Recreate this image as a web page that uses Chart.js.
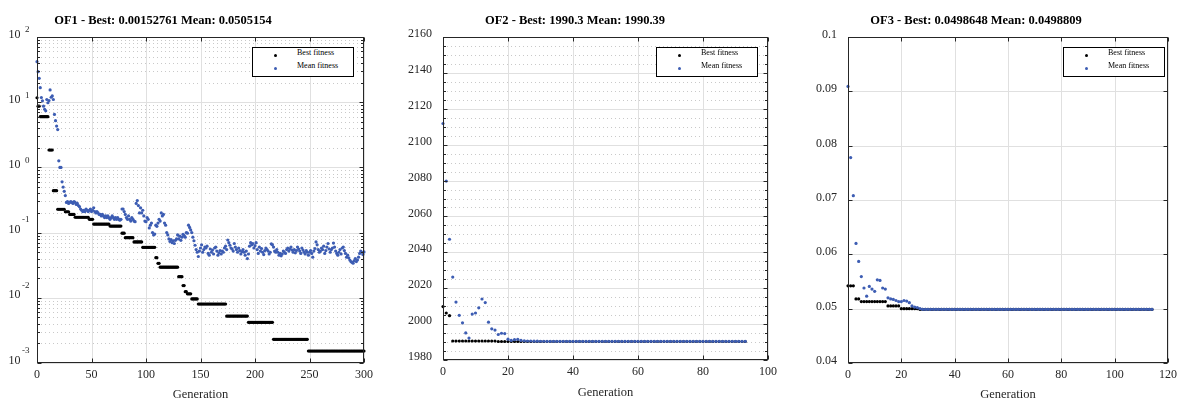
<!DOCTYPE html>
<html><head><meta charset="utf-8">
<script src="https://cdn.jsdelivr.net/npm/chart.js@4.4.1/dist/chart.umd.min.js"></script>
<style>
html,body{margin:0;padding:0;background:#fff;}
#wrap{position:relative;width:1182px;height:403px;overflow:hidden;font-family:'Liberation Serif','Times New Roman',serif;}
canvas{position:absolute;top:0;}
.ttl{position:absolute;top:12px;font-weight:bold;font-size:12.5px;line-height:16px;white-space:nowrap;transform:translateX(-50%);color:#000;}
.lg{position:absolute;top:47px;width:102px;height:30px;border:1px solid #000;background:#fff;box-sizing:border-box;font-size:8px;color:#000;}
.lg .d{position:absolute;width:3px;height:3px;border-radius:50%;}
.lg .t{position:absolute;line-height:10px;white-space:nowrap;}
</style></head>
<body><div id="wrap">
<canvas id="c1" width="394" height="403" style="left:0px"></canvas>
<canvas id="c2" width="400" height="403" style="left:400px"></canvas>
<canvas id="c3" width="382" height="403" style="left:800px"></canvas>
<div class="ttl" id="t1" style="left:163px"></div>
<div class="ttl" id="t2" style="left:575px"></div>
<div class="ttl" id="t3" style="left:976px"></div>
<div class="lg" style="left:252px"><span class="d" style="left:21px;top:6px;background:#000"></span><span class="t n0" style="left:44px;top:0px"></span><span class="d" style="left:21px;top:19px;background:#3d5db3"></span><span class="t n1" style="left:44px;top:13px"></span></div>
<div class="lg" style="left:656px"><span class="d" style="left:21px;top:6px;background:#000"></span><span class="t n0" style="left:44px;top:0px"></span><span class="d" style="left:21px;top:19px;background:#3d5db3"></span><span class="t n1" style="left:44px;top:13px"></span></div>
<div class="lg" style="left:1063px"><span class="d" style="left:21px;top:6px;background:#000"></span><span class="t n0" style="left:44px;top:0px"></span><span class="d" style="left:21px;top:19px;background:#3d5db3"></span><span class="t n1" style="left:44px;top:13px"></span></div>
</div>
<script>
const SERIES_NAMES = ['Best fitness', 'Mean fitness'];
const TITLES = ['OF1 - Best: 0.00152761 Mean: 0.0505154', 'OF2 - Best: 1990.3 Mean: 1990.39', 'OF3 - Best: 0.0498648 Mean: 0.0498809'];
const X_LABEL = 'Generation';

const of1XTicks = [0, 50, 100, 150, 200, 250, 300];
const of1YExponents = [-3, -2, -1, 0, 1, 2];
const of2XTicks = [0, 20, 40, 60, 80, 100];
const of2YTicks = [1980, 2000, 2020, 2040, 2060, 2080, 2100, 2120, 2140, 2160];
const of3XTicks = [0, 20, 40, 60, 80, 100, 120];
const of3YTicks = [0.04, 0.05, 0.06, 0.07, 0.08, 0.09, 0.1];

const of1Best = [
11.7,8.7,8.7,6,6,6,6,6,6,6,
6,1.85,1.85,1.85,1.85,0.44,0.44,0.44,0.44,0.228,
0.228,0.228,0.228,0.228,0.228,0.228,0.209,0.209,0.209,0.209,
0.19,0.19,0.19,0.19,0.19,0.172,0.172,0.172,0.172,0.172,
0.172,0.172,0.172,0.172,0.172,0.172,0.172,0.172,0.16,0.16,
0.16,0.16,0.135,0.135,0.135,0.135,0.135,0.135,0.135,0.135,
0.135,0.135,0.135,0.135,0.135,0.135,0.135,0.126,0.126,0.126,
0.126,0.126,0.126,0.126,0.126,0.126,0.126,0.126,0.098,0.098,
0.098,0.0835,0.0835,0.0835,0.0835,0.0835,0.0835,0.0835,0.0835,0.072,
0.072,0.072,0.072,0.072,0.072,0.072,0.072,0.0594,0.0594,0.0594,
0.0594,0.0594,0.0594,0.0594,0.0594,0.0594,0.0594,0.0594,0.0594,0.0412,
0.0412,0.0338,0.0338,0.0295,0.0295,0.0295,0.0295,0.0295,0.0295,0.0295,
0.0295,0.0295,0.0295,0.0295,0.0295,0.0295,0.0295,0.0295,0.0295,0.0295,
0.0211,0.0211,0.0211,0.0211,0.0154,0.0154,0.0124,0.0124,0.0115,0.0115,
0.0115,0.0115,0.0096,0.0096,0.0096,0.0096,0.0096,0.0096,0.00803,0.00803,
0.00803,0.00803,0.00803,0.00803,0.00803,0.00803,0.00803,0.00803,0.00803,0.00803,
0.00803,0.00803,0.00803,0.00803,0.00803,0.00803,0.00803,0.00803,0.00803,0.00803,
0.00803,0.00803,0.00803,0.00803,0.00525,0.00525,0.00525,0.00525,0.00525,0.00525,
0.00525,0.00525,0.00525,0.00525,0.00525,0.00525,0.00525,0.00525,0.00525,0.00525,
0.00525,0.00525,0.00525,0.00525,0.0042,0.0042,0.0042,0.0042,0.0042,0.0042,
0.0042,0.0042,0.0042,0.0042,0.0042,0.0042,0.0042,0.0042,0.0042,0.0042,
0.0042,0.0042,0.0042,0.0042,0.0042,0.0042,0.0042,0.00231,0.00231,0.00231,
0.00231,0.00231,0.00231,0.00231,0.00231,0.00231,0.00231,0.00231,0.00231,0.00231,
0.00231,0.00231,0.00231,0.00231,0.00231,0.00231,0.00231,0.00231,0.00231,0.00231,
0.00231,0.00231,0.00231,0.00231,0.00231,0.00231,0.00231,0.00231,0.00231,0.00152761,
0.00152761,0.00152761,0.00152761,0.00152761,0.00152761,0.00152761,0.00152761,0.00152761,0.00152761,0.00152761,
0.00152761,0.00152761,0.00152761,0.00152761,0.00152761,0.00152761,0.00152761,0.00152761,0.00152761,0.00152761,
0.00152761,0.00152761,0.00152761,0.00152761,0.00152761,0.00152761,0.00152761,0.00152761,0.00152761,0.00152761,
0.00152761,0.00152761,0.00152761,0.00152761,0.00152761,0.00152761,0.00152761,0.00152761,0.00152761,0.00152761,
0.00152761,0.00152761,0.00152761,0.00152761,0.00152761,0.00152761,0.00152761,0.00152761,0.00152761,0.00152761,
0.00152761];

const of1Mean = [
41.9,29.4,23.2,16.7,11.8,10.5,8.7,7.8,7.4,11.0,
9.8,10.6,15.4,11.9,12.5,11.0,6.5,5.2,4.3,3.8,
1.26,1.0,1.0,0.6,0.5,0.43,0.37,0.29,0.30,0.28,
0.29,0.30,0.29,0.28,0.30,0.29,0.27,0.28,0.26,0.25,
0.23,0.22,0.21,0.22,0.21,0.23,0.22,0.21,0.22,0.23,
0.21,0.22,0.24,0.21,0.20,0.21,0.20,0.19,0.19,0.18,
0.19,0.18,0.17,0.18,0.17,0.18,0.17,0.16,0.17,0.18,
0.17,0.16,0.17,0.16,0.17,0.16,0.155,0.16,0.23,0.23,
0.21,0.19,0.17,0.16,0.18,0.16,0.15,0.17,0.16,0.15,
0.147,0.28,0.31,0.26,0.2,0.24,0.2,0.22,0.18,0.15,
0.147,0.17,0.16,0.118,0.13,0.14,0.1,0.092,0.095,0.13,
0.125,0.14,0.16,0.15,0.2,0.18,0.19,0.14,0.13,0.1,
0.092,0.08,0.073,0.078,0.07,0.075,0.068,0.076,0.08,0.092,
0.08,0.088,0.076,0.085,0.094,0.09,0.085,0.1,0.098,0.13,
0.12,0.11,0.1,0.085,0.075,0.064,0.055,0.05,0.043,0.052,
0.058,0.065,0.05,0.055,0.06,0.058,0.062,0.048,0.045,0.056,
0.05,0.054,0.047,0.058,0.06,0.052,0.045,0.049,0.053,0.047,
0.052,0.05,0.058,0.062,0.055,0.077,0.07,0.064,0.058,0.056,
0.052,0.068,0.06,0.055,0.05,0.058,0.053,0.047,0.051,0.055,
0.05,0.045,0.052,0.04,0.047,0.062,0.07,0.065,0.068,0.058,
0.063,0.07,0.055,0.048,0.06,0.052,0.057,0.05,0.046,0.053,
0.058,0.055,0.052,0.047,0.05,0.067,0.065,0.06,0.052,0.05,
0.055,0.05,0.045,0.048,0.044,0.047,0.052,0.05,0.048,0.055,
0.058,0.052,0.056,0.06,0.054,0.05,0.055,0.049,0.053,0.06,
0.056,0.052,0.048,0.058,0.054,0.05,0.047,0.053,0.05,0.045,
0.05,0.053,0.048,0.042,0.052,0.057,0.072,0.065,0.055,0.05,
0.052,0.058,0.055,0.062,0.048,0.053,0.06,0.068,0.056,0.05,
0.055,0.058,0.069,0.06,0.052,0.048,0.045,0.05,0.055,0.047,
0.058,0.06,0.053,0.048,0.042,0.045,0.041,0.038,0.036,0.035,
0.034,0.037,0.04,0.036,0.038,0.042,0.048,0.052,0.05,0.046,
0.0505154];

const of2Best = [
2009.8,2006.2,2004.7,1990.6,1990.6,1990.6,1990.6,1990.6,1990.6,1990.6,
1990.6,1990.6,1990.6,1990.6,1990.6,1990.6,1990.6,1990.3,1990.3,1990.3,
1990.3,1990.3,1990.3,1990.3,1990.3,1990.3,1990.3,1990.3,1990.3,1990.3,
1990.3,1990.3,1990.3,1990.3,1990.3,1990.3,1990.3,1990.3,1990.3,1990.3,
1990.3,1990.3,1990.3,1990.3,1990.3,1990.3,1990.3,1990.3,1990.3,1990.3,
1990.3,1990.3,1990.3,1990.3,1990.3,1990.3,1990.3,1990.3,1990.3,1990.3,
1990.3,1990.3,1990.3,1990.3,1990.3,1990.3,1990.3,1990.3,1990.3,1990.3,
1990.3,1990.3,1990.3,1990.3,1990.3,1990.3,1990.3,1990.3,1990.3,1990.3,
1990.3,1990.3,1990.3,1990.3,1990.3,1990.3,1990.3,1990.3,1990.3,1990.3,
1990.3,1990.3,1990.3,1990.3];

const of2Mean = [
2111.8,2079.7,2047.3,2026.2,2012.3,2004.9,2000.7,1995.1,1992.2,2005.6,
2006.2,2009.1,2014.0,2012.0,2001.1,1997.4,1996.7,1994.2,1994.9,1994.7,
1991.6,1990.9,1991.3,1991.5,1990.9,1990.7,1990.6,1990.6,1990.5,1990.5,
1990.45,1990.44,1990.43,1990.43,1990.42,1990.42,1990.41,1990.41,1990.41,1990.4,
1990.4,1990.4,1990.4,1990.4,1990.4,1990.4,1990.4,1990.4,1990.4,1990.4,
1990.4,1990.4,1990.4,1990.4,1990.4,1990.4,1990.4,1990.4,1990.4,1990.4,
1990.39,1990.39,1990.39,1990.39,1990.39,1990.39,1990.39,1990.39,1990.39,1990.39,
1990.39,1990.39,1990.39,1990.39,1990.39,1990.39,1990.39,1990.39,1990.39,1990.39,
1990.39,1990.39,1990.39,1990.39,1990.39,1990.39,1990.39,1990.39,1990.39,1990.39,
1990.39,1990.39,1990.39,1990.39];

const of3Best = [
0.0542,0.0542,0.0542,0.0518,0.0518,0.0513,0.0513,0.0513,0.0513,0.0513,
0.0513,0.0513,0.0513,0.0513,0.0513,0.0505,0.0505,0.0505,0.0505,0.0505,
0.05,0.05,0.05,0.05,0.05,0.05,0.05,0.0498648,0.0498648,0.0498648,
0.0498648,0.0498648,0.0498648,0.0498648,0.0498648,0.0498648,0.0498648,0.0498648,0.0498648,0.0498648,
0.0498648,0.0498648,0.0498648,0.0498648,0.0498648,0.0498648,0.0498648,0.0498648,0.0498648,0.0498648,
0.0498648,0.0498648,0.0498648,0.0498648,0.0498648,0.0498648,0.0498648,0.0498648,0.0498648,0.0498648,
0.0498648,0.0498648,0.0498648,0.0498648,0.0498648,0.0498648,0.0498648,0.0498648,0.0498648,0.0498648,
0.0498648,0.0498648,0.0498648,0.0498648,0.0498648,0.0498648,0.0498648,0.0498648,0.0498648,0.0498648,
0.0498648,0.0498648,0.0498648,0.0498648,0.0498648,0.0498648,0.0498648,0.0498648,0.0498648,0.0498648,
0.0498648,0.0498648,0.0498648,0.0498648,0.0498648,0.0498648,0.0498648,0.0498648,0.0498648,0.0498648,
0.0498648,0.0498648,0.0498648,0.0498648,0.0498648,0.0498648,0.0498648,0.0498648,0.0498648,0.0498648,
0.0498648,0.0498648,0.0498648,0.0498648,0.0498648];

const of3Mean = [
0.0909,0.0778,0.0708,0.062,0.0587,0.0559,0.0538,0.0523,0.0541,0.0536,
0.0532,0.0553,0.0552,0.0538,0.0536,0.052,0.0518,0.0517,0.0515,0.0513,
0.0513,0.0515,0.0514,0.0511,0.0505,0.0503,0.0502,0.05,0.0498809,0.0498809,
0.0498809,0.0498809,0.0498809,0.0498809,0.0498809,0.0498809,0.0498809,0.0498809,0.0498809,0.0498809,
0.0498809,0.0498809,0.0498809,0.0498809,0.0498809,0.0498809,0.0498809,0.0498809,0.0498809,0.0498809,
0.0498809,0.0498809,0.0498809,0.0498809,0.0498809,0.0498809,0.0498809,0.0498809,0.0498809,0.0498809,
0.0498809,0.0498809,0.0498809,0.0498809,0.0498809,0.0498809,0.0498809,0.0498809,0.0498809,0.0498809,
0.0498809,0.0498809,0.0498809,0.0498809,0.0498809,0.0498809,0.0498809,0.0498809,0.0498809,0.0498809,
0.0498809,0.0498809,0.0498809,0.0498809,0.0498809,0.0498809,0.0498809,0.0498809,0.0498809,0.0498809,
0.0498809,0.0498809,0.0498809,0.0498809,0.0498809,0.0498809,0.0498809,0.0498809,0.0498809,0.0498809,
0.0498809,0.0498809,0.0498809,0.0498809,0.0498809,0.0498809,0.0498809,0.0498809,0.0498809,0.0498809,
0.0498809,0.0498809,0.0498809,0.0498809,0.0498809];

const BLUE = '#3d5db3';
const AXIS = '#262626';

['t1','t2','t3'].forEach((id, i) => { document.getElementById(id).textContent = TITLES[i]; });
document.querySelectorAll('.n0').forEach(e => e.textContent = SERIES_NAMES[0]);
document.querySelectorAll('.n1').forEach(e => e.textContent = SERIES_NAMES[1]);

Chart.defaults.font.family = "'Liberation Serif', 'Times New Roman', serif";
Chart.defaults.color = AXIS;

function hLine(ctx, x0, x1, y) { ctx.beginPath(); ctx.moveTo(x0, y); ctx.lineTo(x1, y); ctx.stroke(); }
function vLine(ctx, x, y0, y1) { ctx.beginPath(); ctx.moveTo(x, y0); ctx.lineTo(x, y1); ctx.stroke(); }

function minorValues(chart, o) {
  const ys = chart.scales.y;
  const out = [];
  if (o.log) {
    const ex = o.exps;
    for (let i = 0; i < ex.length - 1; i++) for (let m = 2; m <= 9; m++) out.push(m * Math.pow(10, ex[i]));
  } else if (o.minorDiv) {
    const t = ys.ticks.map(k => k.value);
    for (let i = 0; i < t.length - 1; i++) for (let k = 1; k < o.minorDiv; k++) out.push(t[i] + (t[i + 1] - t[i]) * k / o.minorDiv);
  }
  return out;
}

const frame = {
  id: 'frame',
  beforeDatasetsDraw(chart, _a, o) {
    const {ctx, chartArea: a} = chart;
    const xs = chart.scales.x, ys = chart.scales.y;
    ctx.save();
    ctx.lineWidth = 1;
    if (o.minorGrid) {
      ctx.strokeStyle = '#c9c9c9';
      ctx.setLineDash([1, 3]);
      for (const v of minorValues(chart, o)) {
        const p = Math.round(ys.getPixelForValue(v)) + 0.5;
        hLine(ctx, a.left, a.right, p);
      }
      ctx.setLineDash([]);
    }
    ctx.strokeStyle = '#e0e0e0';
    for (const t of xs.ticks) {
      const p = Math.round(xs.getPixelForValue(t.value)) + 0.5;
      vLine(ctx, p, a.top, a.bottom);
    }
    for (const t of ys.ticks) {
      const p = Math.round(ys.getPixelForValue(t.value)) + 0.5;
      hLine(ctx, a.left, a.right, p);
    }
    ctx.restore();
  },
  afterDatasetsDraw(chart, _a, o) {
    const {ctx, chartArea: a} = chart;
    const xs = chart.scales.x, ys = chart.scales.y;
    ctx.save();
    ctx.strokeStyle = AXIS;
    ctx.lineWidth = 1;
    const L = Math.round(a.left) + 0.5, R = Math.round(a.right) - 0.5, T = Math.round(a.top) + 0.5, B = Math.round(a.bottom) - 0.5;
    ctx.strokeRect(L, T, R - L, B - T);
    const maj = 4, mn = 2.5;
    for (const t of xs.ticks) {
      const p = Math.round(xs.getPixelForValue(t.value)) + 0.5;
      vLine(ctx, p, B, B - maj); vLine(ctx, p, T, T + maj);
    }
    for (const t of ys.ticks) {
      const p = Math.round(ys.getPixelForValue(t.value)) + 0.5;
      hLine(ctx, L, L + maj, p); hLine(ctx, R, R - maj, p);
    }
    if (o.minorGrid) {
      for (const v of minorValues(chart, o)) {
        const p = Math.round(ys.getPixelForValue(v)) + 0.5;
        hLine(ctx, L, L + mn, p); hLine(ctx, R, R - mn, p);
      }
    }
    if (o.log) {
      ctx.fillStyle = AXIS;
      ctx.textBaseline = 'middle';
      ctx.textAlign = 'right';
      for (const e of o.exps) {
        const p = ys.getPixelForValue(Math.pow(10, e));
        ctx.font = "12px 'Liberation Serif', serif";
        ctx.fillText('10', 20.5, p - 2.5);
        ctx.font = "9px 'Liberation Serif', serif";
        ctx.fillText(e < 0 ? '-' + Math.abs(e) : String(e), 29.5, p - 2.5 - (e < 0 ? 10 : 4.5));
      }
    }
    ctx.restore();
  }
};

function toPoints(arr) { return arr.map((y, i) => ({x: i, y: y})); }

function makePanel(id, p) {
  return new Chart(document.getElementById(id), {
    type: 'scatter',
    data: {
      datasets: [
        {label: SERIES_NAMES[0], data: toPoints(p.best), pointBackgroundColor: '#000', backgroundColor: '#000',
         pointRadius: 1.6, pointBorderWidth: 0, borderWidth: 0, pointHoverRadius: 1.6, order: 2, clip: 4},
        {label: SERIES_NAMES[1], data: toPoints(p.mean), pointBackgroundColor: BLUE, backgroundColor: BLUE,
         pointRadius: 1.6, pointBorderWidth: 0, borderWidth: 0, pointHoverRadius: 1.6, order: 1, clip: 4}
      ]
    },
    options: {
      responsive: false, animation: false, devicePixelRatio: 1, events: [],
      layout: {padding: {left: 0, right: p.padRight, top: 37, bottom: 0}},
      plugins: {legend: {display: false}, tooltip: {enabled: false}, title: {display: false},
        frame: {log: p.log, exps: p.exps, minorGrid: p.minorGrid, minorDiv: p.minorDiv}},
      scales: {
        x: {
          type: 'linear', position: 'bottom',
          min: p.xTicks[0], max: p.xTicks[p.xTicks.length - 1],
          afterBuildTicks: s => { s.ticks = p.xTicks.map(v => ({value: v})); },
          afterFit: s => { s.height = p.xAxisH; },
          grid: {display: false, drawTicks: false}, border: {display: false},
          ticks: {padding: 5, font: {size: 12}, color: AXIS, maxRotation: 0, minRotation: 0, autoSkip: false,
                  callback: v => String(v)},
          title: {display: true, text: X_LABEL, font: {size: 12.5}, color: AXIS, padding: {top: 0, bottom: p.titlePad}}
        },
        y: {
          type: p.log ? 'logarithmic' : 'linear', position: 'left',
          min: p.yMin, max: p.yMax,
          afterBuildTicks: s => { s.ticks = p.yTicks.map(v => ({value: v})); },
          afterFit: s => { s.width = p.yAxisW; },
          grid: {display: false, drawTicks: false}, border: {display: false},
          ticks: {padding: 11, font: {size: 12}, color: AXIS, autoSkip: false, labelOffset: p.labelOffset,
                  display: !p.log,
                  callback: v => p.log ? '' : String(parseFloat(Number(v).toFixed(4)))}
        }
      }
    },
    plugins: [frame]
  });
}

makePanel('c1', {
  best: of1Best, mean: of1Mean, xTicks: of1XTicks,
  log: true, exps: of1YExponents, yTicks: of1YExponents.map(e => Math.pow(10, e)),
  yMin: Math.pow(10, of1YExponents[0]), yMax: Math.pow(10, of1YExponents[of1YExponents.length - 1]),
  minorGrid: true, padRight: 30, xAxisH: 40, yAxisW: 37, titlePad: 1, labelOffset: 0
});
makePanel('c2', {
  best: of2Best, mean: of2Mean, xTicks: of2XTicks,
  log: false, yTicks: of2YTicks, yMin: of2YTicks[0], yMax: of2YTicks[of2YTicks.length - 1],
  minorGrid: true, minorDiv: 4, padRight: 32, xAxisH: 43, yAxisW: 43, titlePad: 3, labelOffset: -3
});
makePanel('c3', {
  best: of3Best, mean: of3Mean, xTicks: of3XTicks,
  log: false, yTicks: of3YTicks, yMin: of3YTicks[0], yMax: of3YTicks[of3YTicks.length - 1],
  minorGrid: false, padRight: 7, xAxisH: 40, yAxisW: 48, titlePad: 1, labelOffset: -2
});
</script>
</body></html>
